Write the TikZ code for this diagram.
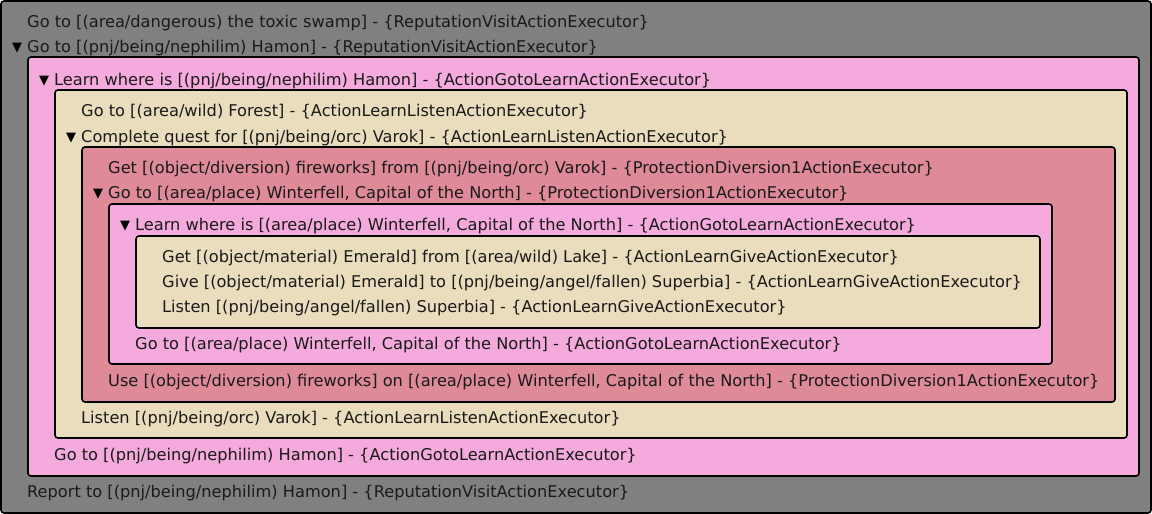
\documentclass[tikz,border=0pt]{standalone}
\usepackage{fontspec}
\setmainfont{DejaVu Sans}
\definecolor{cgray}{HTML}{808080}
\definecolor{cpink}{HTML}{F4AADC}
\definecolor{cbeige}{HTML}{E9DDBE}
\definecolor{crose}{HTML}{DE8A98}
\definecolor{ctext}{HTML}{1A1A1A}
\tikzset{
  box/.style={draw=black, line width=1.6pt, rounded corners=3pt},
  lbl/.style={anchor=base west, inner sep=0pt, text=ctext, font=\fontsize{16.2}{18}\selectfont},
  tri/.style={anchor=base west, inner sep=0pt, text=black, font=\fontsize{13}{15}\selectfont},
}
\begin{document}
\begin{tikzpicture}[x=1pt,y=-1pt]
\useasboundingbox (0,0) rectangle (1152,514);
\path[box, fill=cgray] (1,1) rectangle (1151,513);
\path[box, fill=cpink] (28,57) rectangle (1139,476);
\path[box, fill=cbeige] (55,90) rectangle (1127,438);
\path[box, fill=crose] (82,147) rectangle (1115,402);
\path[box, fill=cpink] (109,204) rectangle (1052,364);
\path[box, fill=cbeige] (136,236) rectangle (1040,328);

\node[lbl] (t1) at (27,27.5) {Go to [(area/dangerous) the toxic swamp] - \{ReputationVisitActionExecutor\}};
\node[tri] (a2) at (12,51.5) {▼};
\node[lbl] (t2) at (27,52.5) {Go to [(pnj/being/nephilim) Hamon] - \{ReputationVisitActionExecutor\}};
\node[tri] (a3) at (39,84) {▼};
\node[lbl] (t3) at (54,85) {Learn where is [(pnj/being/nephilim) Hamon] - \{ActionGotoLearnActionExecutor\}};
\node[lbl] (t4) at (81,116) {Go to [(area/wild) Forest] - \{ActionLearnListenActionExecutor\}};
\node[tri] (a5) at (66,141) {▼};
\node[lbl] (t5) at (81,142) {Complete quest for [(pnj/being/orc) Varok] - \{ActionLearnListenActionExecutor\}};
\node[lbl] (t6) at (108,173.3) {Get [(object/diversion) fireworks] from [(pnj/being/orc) Varok] - \{ProtectionDiversion1ActionExecutor\}};
\node[tri] (a7) at (93,197.7) {▼};
\node[lbl] (t7) at (108,198.7) {Go to [(area/place) Winterfell, Capital of the North] - \{ProtectionDiversion1ActionExecutor\}};
\node[tri] (a8) at (120,229.7) {▼};
\node[lbl] (t8) at (135,230.7) {Learn where is [(area/place) Winterfell, Capital of the North] - \{ActionGotoLearnActionExecutor\}};
\node[lbl] (t9) at (162,262.7) {Get [(object/material) Emerald] from [(area/wild) Lake] - \{ActionLearnGiveActionExecutor\}};
\node[lbl] (t10) at (162,287.7) {Give [(object/material) Emerald] to [(pnj/being/angel/fallen) Superbia] - \{ActionLearnGiveActionExecutor\}};
\node[lbl] (t11) at (162,312.3) {Listen [(pnj/being/angel/fallen) Superbia] - \{ActionLearnGiveActionExecutor\}};
\node[lbl] (t12) at (135,349.3) {Go to [(area/place) Winterfell, Capital of the North] - \{ActionGotoLearnActionExecutor\}};
\node[lbl] (t13) at (108,386) {Use [(object/diversion) fireworks] on [(area/place) Winterfell, Capital of the North] - \{ProtectionDiversion1ActionExecutor\}};
\node[lbl] (t14) at (81,423.3) {Listen [(pnj/being/orc) Varok] - \{ActionLearnListenActionExecutor\}};
\node[lbl] (t15) at (54,460) {Go to [(pnj/being/nephilim) Hamon] - \{ActionGotoLearnActionExecutor\}};
\node[lbl] (t16) at (27,497.3) {Report to [(pnj/being/nephilim) Hamon] - \{ReputationVisitActionExecutor\}};
\end{tikzpicture}
\end{document}
